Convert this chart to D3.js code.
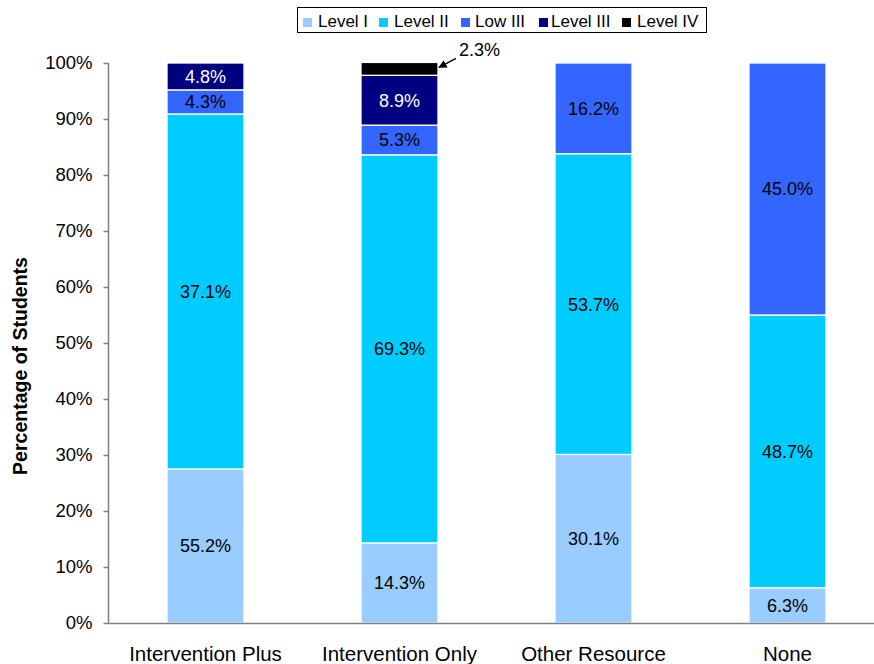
<!DOCTYPE html>
<html><head><meta charset="utf-8">
<script src="https://cdn.jsdelivr.net/npm/d3@7"></script>
<style>body{margin:0;background:#fff}svg{display:block}text{font-family:"Liberation Sans",Arial,sans-serif}</style>
</head><body>
<svg id="chart" width="874" height="664"></svg>
<script>
const categories = ["Intervention Plus", "Intervention Only", "Other Resource", "None"];
const seriesNames = ["Level I", "Level II", "Low III", "Level III", "Level IV"];
const seriesColors = ["#99CCFF", "#00CCFF", "#3366FF", "#000080", "#000000"];
const levelI   = [27.5, 14.3, 30.1, 6.3];
const levelII  = [63.4, 69.3, 53.7, 48.7];
const lowIII   = [4.3, 5.3, 16.2, 45.0];
const levelIII = [4.8, 8.9, 0, 0];
const levelIV  = [0, 2.3, 0, 0];
// labels as printed in the original chart
const labelsI   = ["55.2%", "14.3%", "30.1%", "6.3%"];
const labelsII  = ["37.1%", "69.3%", "53.7%", "48.7%"];
const labelsLowIII = ["4.3%", "5.3%", "16.2%", "45.0%"];
const labelsIII = ["4.8%", "8.9%", "", ""];
const labelsIV  = ["", "2.3%", "", ""];
const yTicks = [0, 10, 20, 30, 40, 50, 60, 70, 80, 90, 100];

(function () {
const seriesValues = [levelI, levelII, lowIII, levelIII, levelIV];
const seriesLabels = [labelsI, labelsII, labelsLowIII, labelsIII, labelsIV];

const svg = d3.select("#chart");
const mLeft = 108.5, mTop = 63, mBottom = 623, mRight = 884.5;
const x = d3.scaleBand().domain(categories).range([mLeft, mRight]);
const y = d3.scaleLinear().domain([0, 100]).range([mBottom, mTop]);
const barW = 77;

const rows = categories.map((c, i) => {
  const o = {cat: c};
  seriesNames.forEach((s, j) => o[s] = seriesValues[j][i]);
  return o;
});
const stack = d3.stack().keys(seriesNames)(rows);

stack.forEach((layer, j) => {
  svg.append("g").selectAll("rect").data(layer).join("rect")
    .attr("x", d => x(d.data.cat) + (x.bandwidth() - barW) / 2)
    .attr("width", barW)
    .attr("y", d => y(d[1]))
    .attr("height", d => Math.max(0, y(d[0]) - y(d[1])))
    .attr("fill", seriesColors[j])
    .attr("stroke", "#fff").attr("stroke-width", 1.3)
    .style("display", d => d[1] - d[0] > 0 ? null : "none");
});

stack.forEach((layer, j) => {
  if (j === 4) return;
  svg.append("g").selectAll("text").data(layer).join("text")
    .attr("x", d => x(d.data.cat) + x.bandwidth() / 2)
    .attr("y", d => (y(d[0]) + y(d[1])) / 2)
    .attr("dy", "0.36em")
    .attr("text-anchor", "middle")
    .attr("font-size", 18)
    .attr("fill", j === 3 ? "#fff" : "#000")
    .text((d, i) => seriesLabels[j][i]);
});

svg.append("defs").append("marker").attr("id", "arr")
  .attr("viewBox", "0 0 10 10").attr("refX", 9).attr("refY", 5)
  .attr("markerWidth", 6).attr("markerHeight", 6).attr("orient", "auto")
  .append("path").attr("d", "M0,0L10,5L0,10z").attr("fill", "#000");
stack[4].forEach((d, i) => {
  if (!(d[1] - d[0] > 0)) return;
  const bx = x(d.data.cat) + (x.bandwidth() + barW) / 2;
  const by = y(d[1]);
  svg.append("line").attr("x1", bx + 18).attr("y1", by - 4).attr("x2", bx + 1).attr("y2", by + 5)
    .attr("stroke", "#000").attr("stroke-width", 1.4).attr("marker-end", "url(#arr)");
  svg.append("text").attr("x", bx + 21).attr("y", by - 6).attr("font-size", 18)
    .text(labelsIV[i]);
});

const axisColor = "#808080";
const yAxis = svg.append("g").attr("transform", `translate(${mLeft},0)`)
  .call(d3.axisLeft(y).tickValues(yTicks).tickFormat(d => d + "%").tickSize(5).tickPadding(11));
yAxis.select(".domain").attr("stroke", axisColor).attr("stroke-width", 1.5).attr("d", `M0,${mTop}V${mBottom}`);
yAxis.selectAll(".tick line").attr("stroke", axisColor).attr("stroke-width", 1.5);
yAxis.selectAll("text").attr("font-size", 18.5).attr("fill", "#000")
  .style("font-family", '"Liberation Sans",Arial,sans-serif');

svg.append("line").attr("x1", mLeft).attr("x2", 874).attr("y1", mBottom + 0.5).attr("y2", mBottom + 0.5)
  .attr("stroke", axisColor).attr("stroke-width", 1.5);

svg.append("g").selectAll("text").data(categories).join("text")
  .attr("x", d => x(d) + x.bandwidth() / 2).attr("y", 660.5)
  .attr("text-anchor", "middle").attr("font-size", 20.5).text(d => d);

svg.append("text").attr("transform", "translate(27,366) rotate(-90)")
  .attr("text-anchor", "middle").attr("font-size", 19.5).attr("font-weight", "bold")
  .text("Percentage of Students");

const lg = svg.append("g");
lg.append("rect").attr("x", 297.5).attr("y", 7.5).attr("width", 409).attr("height", 25)
  .attr("fill", "#fff").attr("stroke", "#000").attr("stroke-width", 1);
const legSq = [303, 379, 461, 539, 622];
const legTx = [318, 394, 475, 551, 637];
seriesNames.forEach((s, j) => {
  lg.append("rect").attr("x", legSq[j]).attr("y", 18).attr("width", 9).attr("height", 9).attr("fill", seriesColors[j]);
  lg.append("text").attr("x", legTx[j]).attr("y", 27).attr("font-size", 17).text(s);
});
})();
</script>
</body></html>
